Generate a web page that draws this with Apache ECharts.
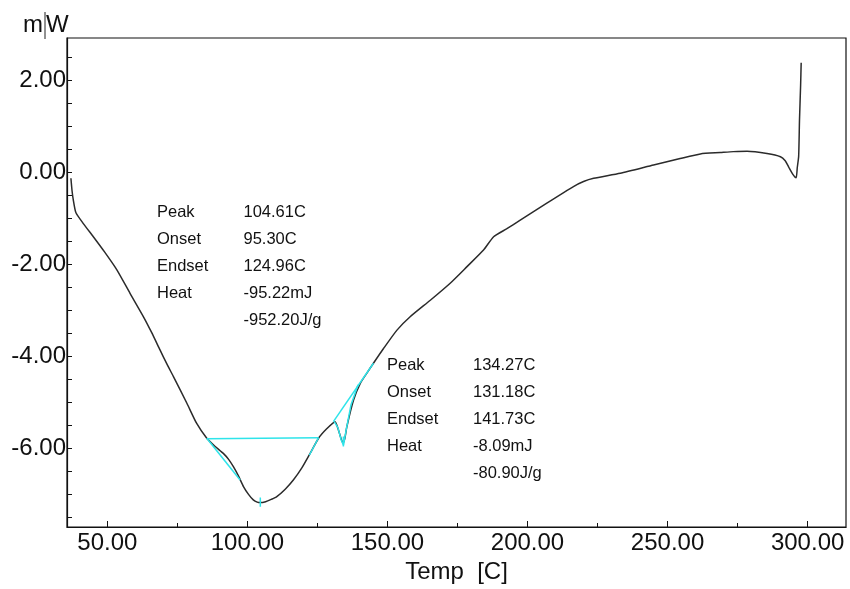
<!DOCTYPE html>
<html>
<head>
<meta charset="utf-8">
<script src="https://cdn.jsdelivr.net/npm/echarts@6/dist/echarts.min.js"></script>
<style>html,body{margin:0;padding:0;background:#fff}#c{width:850px;height:589px}</style>
</head>
<body>
<div id="c"></div>
<script>
// ---- data ----
const temps = [37.0,37.4,37.9,38.8,41.5,45.0,49.0,53.4,58.1,62.9,65.8,68.8,71.2,73.6,78.4,81.9,85.5,88.5,91.4,93.3,95.0,96.8,98.6,100.4,102.1,103.5,104.6,106.5,108.5,110.5,113.5,116.4,119.5,122.4,125.4,128.4,131.3,132.5,133.4,134.1,134.8,135.5,137.9,140.3,142.6,145.0,148.6,153.4,158.1,165.3,172.4,178.4,184.3,187.9,192.5,197.4,206.9,216.4,220.0,223.6,233.1,245.0,254.5,261.7,268.8,273.5,278.4,285.5,290.3,292.0,293.2,294.8,295.9,296.3,296.8,297.1,297.5,297.7];
const heatFlow = [-0.13,-0.40,-0.62,-0.88,-1.12,-1.40,-1.73,-2.12,-2.63,-3.14,-3.48,-3.86,-4.16,-4.44,-5.02,-5.46,-5.78,-5.96,-6.11,-6.24,-6.40,-6.60,-6.83,-7.00,-7.12,-7.17,-7.18,-7.16,-7.11,-7.05,-6.89,-6.69,-6.42,-6.11,-5.78,-5.57,-5.42,-5.60,-5.78,-5.88,-5.78,-5.53,-4.95,-4.59,-4.37,-4.15,-3.83,-3.43,-3.14,-2.78,-2.41,-2.05,-1.69,-1.40,-1.23,-1.04,-0.67,-0.31,-0.20,-0.13,-0.02,0.16,0.30,0.40,0.43,0.45,0.46,0.41,0.34,0.25,0.12,-0.05,-0.12,0.10,0.35,1.14,1.90,2.38];

// analysis (cyan) lines
const baseline1 = [[85.5,-5.79],[125.4,-5.77]];
const tangent1 = [[85.5,-5.78],[97.4,-6.69]];
const tangent1b = [[122.1,-6.15],[125.4,-5.77]];
const peakMark1 = [[104.61,-7.07],[104.61,-7.27]];
const tangent2 = [[130.7,-5.42],[145.0,-4.15]];
const dip2 = [[131.0,-5.42],[132.3,-5.55],[133.5,-5.82],[134.3,-5.93],[135.2,-5.62],[137.0,-5.05],[139.5,-4.62]];
const peakMark2 = [[134.27,-5.74],[134.27,-5.96]];

const xLabels = [50,100,150,200,250,300];
const xMinor = [75,125,175,225,275];
const yLabels = [-6,-4,-2,0,2];
const yTicks = [-7.5,-7,-6.5,-6,-5.5,-5,-4.5,-4,-3.5,-3,-2.5,-2,-1.5,-1,-0.5,0,0.5,1,1.5,2,2.5];

const ann1Labels = ['Peak','Onset','Endset','Heat',''];
const ann1Values = ['104.61C','95.30C','124.96C','-95.22mJ','-952.20J/g'];
const ann2Labels = ['Peak','Onset','Endset','Heat',''];
const ann2Values = ['134.27C','131.18C','141.73C','-8.09mJ','-80.90J/g'];

// ---- chart ----
const FONT = '"Liberation Sans", Arial, sans-serif';
const chart = echarts.init(document.getElementById('c'), null, {renderer:'canvas'});
const curve = temps.map((t,i)=>[t,heatFlow[i]]);
const CYAN = '#2ee4ea';
function cyanSeries(d){
  return {type:'line', data:d, showSymbol:false, symbol:'none', silent:true, z:3,
    lineStyle:{color:CYAN, width:1.5}, animation:false};
}
const graphics = [];
function addBlock(labels, values, xl, xv, y0, rowH){
  labels.forEach((l,i)=>{
    const y = y0 + i*rowH;
    if(l) graphics.push({type:'text', x:xl, y:y, style:{text:l, fill:'#111', fontSize:16.5, fontFamily:FONT, verticalAlign:'middle', align:'left'}});
    graphics.push({type:'text', x:xv, y:y, style:{text:values[i], fill:'#111', fontSize:16.5, fontFamily:FONT, verticalAlign:'middle', align:'left'}});
  });
}
addBlock(ann1Labels, ann1Values, 157, 243.5, 212, 27);
addBlock(ann2Labels, ann2Values, 387, 473, 365, 27);
graphics.push({type:'text', x:23, y:25, style:{text:'m', fill:'#111', fontSize:24, fontFamily:FONT, verticalAlign:'middle', align:'left'}});
graphics.push({type:'text', x:46, y:25, style:{text:'W', fill:'#111', fontSize:24, fontFamily:FONT, verticalAlign:'middle', align:'left'}});
graphics.push({type:'line', shape:{x1:45, y1:12, x2:45, y2:39}, style:{stroke:'#222', lineWidth:1}});

chart.setOption({
  animation:false,
  backgroundColor:'#fff',
  grid:{left:67, top:38, right:4, bottom:62, show:true, borderColor:'#111', borderWidth:1.2, backgroundColor:'transparent'},
  xAxis:[{
    type:'value', min:35.6, max:313.7,
    name:'Temp  [C]', nameLocation:'middle', nameGap:30,
    nameTextStyle:{fontSize:24, fontFamily:FONT, color:'#111'},
    axisLine:{show:true, onZero:false, lineStyle:{color:'#111', width:1.2}},
    axisTick:{show:true, inside:true, length:6, customValues:xLabels, lineStyle:{color:'#111'}},
    axisLabel:{show:true, customValues:xLabels, margin:4, fontSize:24, fontFamily:FONT, color:'#111', formatter:v=>v.toFixed(2)},
    splitLine:{show:false}
  },{
    type:'value', min:35.6, max:313.7, position:'bottom',
    axisLine:{show:false, onZero:false},
    axisTick:{show:true, inside:true, length:4, customValues:xMinor, lineStyle:{color:'#111'}},
    axisLabel:{show:false}, splitLine:{show:false}
  }],
  yAxis:{
    type:'value', min:-7.71, max:2.92,
    axisLine:{show:true, onZero:false, lineStyle:{color:'#111', width:1.2}},
    axisTick:{show:true, inside:true, length:5, customValues:yTicks, lineStyle:{color:'#111'}},
    axisLabel:{show:true, customValues:yLabels, margin:1, fontSize:24, fontFamily:FONT, color:'#111', formatter:v=>v.toFixed(2)},
    splitLine:{show:false}
  },
  graphic:graphics,
  series:[
    {type:'line', data:curve, showSymbol:false, symbol:'none', z:2, silent:true,
      smooth:0.2,
      lineStyle:{color:'#2b2b2b', width:1.5}},
    cyanSeries(baseline1), cyanSeries(tangent1), cyanSeries(tangent1b), cyanSeries(peakMark1),
    cyanSeries(tangent2), cyanSeries(dip2), cyanSeries(peakMark2)
  ]
});
</script>
</body>
</html>
